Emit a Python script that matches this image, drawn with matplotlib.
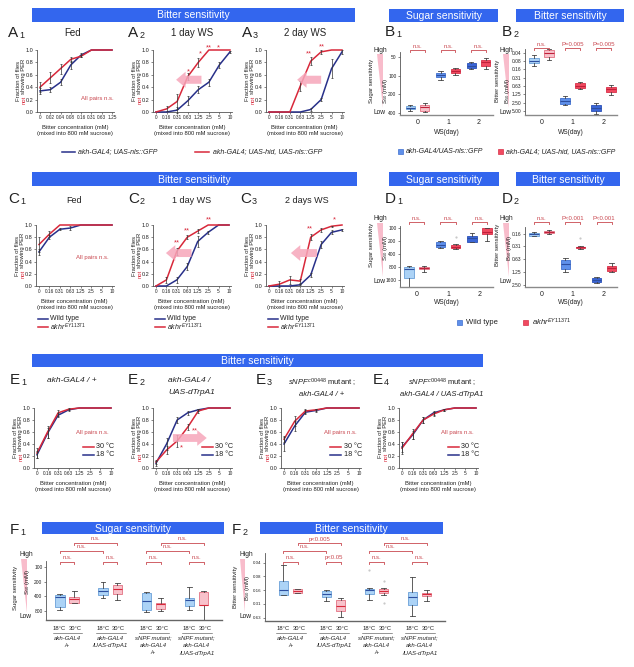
import matplotlib
matplotlib.use('Agg')
import matplotlib.pyplot as plt
from matplotlib.patches import Rectangle, Polygon, FancyArrow
from matplotlib.transforms import blended_transform_factory
from matplotlib.ticker import NullLocator, FixedLocator
import numpy as np

plt.rcParams['font.family'] = ['Liberation Sans', 'DejaVu Sans']
plt.rcParams['mathtext.fontset'] = 'custom'
plt.rcParams['mathtext.rm'] = 'Liberation Sans'
plt.rcParams['mathtext.it'] = 'Liberation Sans:italic'
plt.rcParams['mathtext.bf'] = 'Liberation Sans:bold'

# ---------------- data ----------------
conc_fed_a = ['0', '0.02', '0.04', '0.08', '0.16', '0.31', '0.63', '1.25']
conc = ['0', '0.16', '0.31', '0.63', '1.25', '2.5', '5', '10']

a1_ctrl = [0.34, 0.36, 0.48, 0.76, 0.92, 1.0, 1.0, 1.0]
a1_ctrl_err = [0.05, 0.04, 0.05, 0.07, 0.03, 0, 0, 0]
a1_hid = [0.40, 0.55, 0.70, 0.85, 0.90, 1.0, 1.0, 1.0]
a1_hid_err = [0.08, 0.09, 0.08, 0.04, 0.02, 0, 0, 0]
a2_ctrl = [0.0, 0.0, 0.03, 0.18, 0.36, 0.48, 0.76, 0.97]
a2_ctrl_err = [0, 0, 0.05, 0.07, 0.06, 0.06, 0.05, 0.02]
a2_hid = [0.0, 0.05, 0.17, 0.57, 0.80, 1.0, 1.0, 1.0]
a2_hid_err = [0, 0.04, 0.12, 0.06, 0.07, 0, 0, 0]
a3_ctrl = [0.0, 0.0, 0.0, 0.0, 0.04, 0.20, 0.70, 0.97]
a3_ctrl_err = [0, 0, 0, 0, 0.02, 0.03, 0.15, 0.03]
a3_hid = [0.0, 0.0, 0.0, 0.42, 0.82, 0.97, 1.0, 1.0]
a3_hid_err = [0, 0, 0, 0.08, 0.06, 0.03, 0, 0]

c1_wt = [0.56, 0.80, 0.93, 0.95, 1.0, 1.0, 1.0, 1.0]
c1_wt_err = [0.05, 0.03, 0.02, 0.03, 0, 0, 0, 0]
c1_akhr = [0.68, 0.85, 1.0, 1.0, 1.0, 1.0, 1.0, 1.0]
c1_akhr_err = [0.12, 0.05, 0, 0, 0, 0, 0, 0]
c2_wt = [0.0, 0.0, 0.10, 0.32, 0.73, 0.88, 1.0, 1.0]
c2_wt_err = [0, 0, 0.05, 0.05, 0.09, 0.02, 0, 0]
c2_akhr = [0.0, 0.10, 0.57, 0.80, 0.90, 1.0, 1.0, 1.0]
c2_akhr_err = [0, 0.05, 0.06, 0.03, 0.03, 0, 0, 0]
c3_wt = [0.0, 0.0, 0.0, 0.02, 0.18, 0.68, 0.88, 0.92]
c3_wt_err = [0, 0, 0, 0.01, 0.03, 0.05, 0.03, 0.02]
c3_akhr = [0.0, 0.03, 0.10, 0.08, 0.80, 0.92, 0.98, 1.0]
c3_akhr_err = [0, 0.05, 0.07, 0.03, 0.05, 0.03, 0.01, 0]

e1_30 = [0.25, 0.60, 0.92, 0.98, 1.0, 1.0, 1.0, 1.0]
e1_30_err = [0.08, 0.10, 0.05, 0.02, 0, 0, 0, 0]
e1_18 = [0.22, 0.58, 0.88, 0.97, 1.0, 1.0, 1.0, 1.0]
e1_18_err = [0.06, 0.08, 0.03, 0.02, 0, 0, 0, 0]
e2_30 = [0.10, 0.30, 0.45, 0.68, 0.95, 1.0, 1.0, 1.0]
e2_30_err = [0.04, 0.06, 0.10, 0.05, 0.03, 0, 0, 0]
e2_18 = [0.08, 0.40, 0.80, 0.92, 0.97, 1.0, 1.0, 1.0]
e2_18_err = [0.04, 0.10, 0.05, 0.03, 0.02, 0, 0, 0]
e3_30 = [0.48, 0.78, 0.95, 0.97, 1.0, 1.0, 1.0, 1.0]
e3_30_err = [0.05, 0.08, 0.03, 0.02, 0, 0, 0, 0]
e3_18 = [0.40, 0.70, 0.93, 0.96, 1.0, 1.0, 1.0, 1.0]
e3_18_err = [0.12, 0.08, 0.03, 0.03, 0, 0, 0, 0]
e4_30 = [0.33, 0.57, 0.80, 0.90, 0.97, 1.0, 1.0, 1.0]
e4_30_err = [0.10, 0.08, 0.05, 0.04, 0.02, 0, 0, 0]
e4_18 = [0.35, 0.55, 0.80, 0.92, 0.97, 1.0, 1.0, 1.0]
e4_18_err = [0.08, 0.06, 0.05, 0.03, 0.02, 0, 0, 0]

ws_days = ['0', '1', '2']
# box stats: [whislo, q1, median, q3, whishi] per WS day
b1_ctrl = [[296, 307, 327, 347, 370], [85, 89.5, 97, 106, 117], [59.5, 63, 69, 76, 78]]
b1_hid = [[272, 296, 323, 370, 388], [76, 79, 84, 91.5, 97], [52.5, 56, 60, 69, 79]]
b2_ctrl = [[0.047, 0.062, 0.078, 0.095, 0.119], [1.46, 1.77, 2.16, 2.84, 3.09], [2.68, 3.09, 3.88, 5.1, 6.7]]
b2_hid = [[0.029, 0.031, 0.040, 0.055, 0.072], [0.44, 0.50, 0.62, 0.77, 0.81], [0.58, 0.67, 0.83, 1.07, 1.34]]
d1_wt = [[758, 787, 890, 1461, 2286], [197, 208, 248, 280, 295], [128, 151, 173, 208, 214]]
d1_akhr = [[758, 813, 857, 904, 1028], [238, 248, 271, 295, 306], [102, 102, 122, 140, 200]]
d1_akhr_out = [[], [159], []]
d2_wt = [[0.141, 0.149, 0.163, 0.175, 0.181], [0.58, 0.66, 0.83, 1.07, 1.28], [1.68, 1.78, 1.95, 2.21, 2.33]]
d2_akhr = [[0.131, 0.138, 0.146, 0.154, 0.160], [0.312, 0.319, 0.330, 0.348, 0.362], [0.787, 0.911, 1.03, 1.20, 1.28]]
d2_akhr_out = [[], [0.202], []]

temps = ['18°C', '30°C']
f_groups = [['akh-GAL4', '/+'], ['akh-GAL4', '/UAS-dTrpA1'],
            ['sNPF mutant;', 'akh-GAL4', '/+'], ['sNPF mutant;', 'akh-GAL4', '/UAS-dTrpA1']]
f1_18 = [[364, 381, 420, 677, 781], [205, 273, 315, 381, 440], [330, 347, 508, 781, 859], [260, 440, 484, 645, 781]]
f1_30 = [[315, 420, 462, 559, 559], [215, 236, 286, 364, 484], [440, 559, 586, 745, 819], [315, 330, 615, 615, 1260]]
f2_18 = [[0.0442, 0.0975, 0.152, 0.205, 0.205], [0.152, 0.160, 0.186, 0.226, 0.276],
         [0.138, 0.145, 0.152, 0.186, 0.262], [0.080, 0.168, 0.226, 0.336, 0.58]]
f2_18_out = [[], [], [0.0566], []]
f2_30 = [[0.145, 0.145, 0.160, 0.177, 0.177], [0.238, 0.262, 0.353, 0.453, 0.61],
         [0.138, 0.145, 0.160, 0.177, 0.205], [0.152, 0.177, 0.195, 0.215, 0.276]]
f2_30_out = [[], [], [0.0975, 0.305], []]

# ---------------- style ----------------
W, H = 634, 667
RED = '#d8283a'
NAVY = '#28308a'
BANNER = '#3366ee'
SIG = '#c9474f'
PINK = '#f6a6ba'
DARK = '#222222'
AX = '#555555'
LB_F, LB_E = '#acd3f6', '#6aa0d8'
LP_F, LP_E = '#f8c2cb', '#e27282'
MB_F, MB_E = '#5f90ea', '#3e6fd0'
DB_F, DB_E = '#3b66d6', '#2a50b8'
MR_F, MR_E = '#f04a60', '#d83048'

fig = plt.figure(figsize=(W / 100, H / 100), dpi=100)


def fy(y):
    return 1 - y / H


def ftext(x, y, s, **kw):
    kw.setdefault('color', DARK)
    return fig.text(x / W, fy(y), s, **kw)


def add_ax(x0, y0, x1, y1):
    return fig.add_axes([x0 / W, fy(y1), (x1 - x0) / W, (y1 - y0) / H])


def banner(x0, y0, x1, y1, txt, fs=7.5):
    fig.add_artist(Rectangle((x0 / W, fy(y1)), (x1 - x0) / W, (y1 - y0) / H,
                             transform=fig.transFigure, facecolor=BANNER, edgecolor='none'))
    ftext((x0 + x1) / 2, (y0 + y1) / 2 + 0.5, txt, color='white', ha='center', va='center', fontsize=fs)


LW = {'A': 10.6, 'B': 10.6, 'C': 11.5, 'D': 11.5, 'E': 10.6, 'F': 9.7}


def plabel(x, y, letter, num):
    ftext(x, y, letter, fontsize=11, va='center')
    ftext(x + LW[letter] + 0.5, y + 2.5, num, fontsize=6.5, va='center')


renderer = fig.canvas.get_renderer()


def not_label(xc, yc, fs=4.2):
    t = fig.text(0, 0, 'not showing PER', fontsize=fs, rotation=90)
    hf = t.get_window_extent(renderer).height
    t.remove()
    fig.text(xc / W, fy(yc + hf / 2), 'not', color=RED, rotation=90, ha='center', va='bottom', fontsize=fs)
    fig.text(xc / W, fy(yc - hf / 2), 'showing PER', color=DARK, rotation=90, ha='center', va='top', fontsize=fs)


def style_axes(ax):
    for s in ['top', 'right']:
        ax.spines[s].set_visible(False)
    for s in ['left', 'bottom']:
        ax.spines[s].set_color(AX)
        ax.spines[s].set_linewidth(0.6)
    ax.tick_params(colors=AX, labelcolor=DARK, length=1.5, width=0.5, pad=1)


def line_panel(t0, t7, y1, y0, xlabels, series, arrow=None, stars=(), ns=None):
    unit = (t7 - t0) / 7
    x0 = t0 - 0.3 * unit
    x1 = t7 + 0.15 * unit
    ytop = y0 - 1.15 * (y0 - y1)
    ax = add_ax(x0, ytop, x1, y0)
    ax.set_xlim(-0.3, 7.15)
    ax.set_ylim(0, 1.15)
    style_axes(ax)
    ax.spines['left'].set_bounds(0, 1)
    xs = np.arange(8)
    for vals, errs, col in series:
        v = np.array(vals)
        e = np.array(errs)
        ax.plot(xs, v, color=col, lw=1.1, zorder=4, clip_on=False)
        m = e > 0
        ax.errorbar(xs[m], v[m], yerr=e[m], fmt='none', ecolor='#333333', elinewidth=0.5,
                    capsize=1.0, capthick=0.5, zorder=5, clip_on=False)
    ax.set_xticks(xs)
    ax.set_xticklabels(xlabels, fontsize=3.4)
    ax.set_yticks([0, 0.2, 0.4, 0.6, 0.8, 1.0])
    ax.set_yticklabels(['0.0', '0.2', '0.4', '0.6', '0.8', '1.0'], fontsize=4.0)
    ax.tick_params(axis='y', pad=0.8)
    if arrow is not None:
        xa, xb, ya = arrow
        ax.add_patch(FancyArrow(xa, ya, xb - xa, 0, width=0.13, head_width=0.26, head_length=0.9,
                                length_includes_head=True, facecolor=PINK, edgecolor='none', alpha=0.85, zorder=6))
    for sx, sy, s in stars:
        ax.text(sx, sy, s, color=RED, fontsize=5.5, ha='center', va='center', zorder=7)
    if ns is not None:
        ax.text(ns[0], ns[1], 'All pairs n.s.', transform=ax.transAxes, color=SIG, fontsize=4.3,
                ha='center', va='center')
    xc = (x0 + x1) / 2
    ftext(xc, y0 + 15, 'Bitter concentration (mM)', fontsize=4.2, ha='center', va='center')
    ftext(xc, y0 + 21.5, '(mixed into 800 mM sucrose)', fontsize=4.2, ha='center', va='center')
    ftext(x0 - 18.5, (y0 + y1) / 2, 'Fraction of flies', fontsize=4.2, rotation=90, ha='center', va='center')
    not_label(x0 - 13, (y0 + y1) / 2)
    return ax


def bracket(ax, xa, xb, ypx, label, tdy=4.0, fs=4.3):
    tr = blended_transform_factory(ax.transData, fig.transFigure)
    yf = fy(ypx)
    d = 2.0 / H
    ax.plot([xa, xa, xb, xb], [yf - d, yf, yf, yf - d], transform=tr, color=SIG, lw=0.6, clip_on=False)
    ax.text((xa + xb) / 2, fy(ypx - tdy), label, transform=tr, ha='center', va='center',
            fontsize=fs, color=SIG)


def draw_boxes(ax, stats_list, positions, width, faces, edges, meds, fliers=None):
    if fliers is None:
        fliers = [[] for _ in stats_list]
    stats = [dict(whislo=s[0], q1=s[1], med=s[2], q3=s[3], whishi=s[4], fliers=f)
             for s, f in zip(stats_list, fliers)]
    b = ax.bxp(stats, positions=positions, widths=width, patch_artist=True, showfliers=True,
               manage_ticks=False,
               whiskerprops=dict(color='#444444', lw=0.6),
               capprops=dict(color='#444444', lw=0.6),
               flierprops=dict(marker='o', ms=1.6, markerfacecolor='#c8c8c8', markeredgecolor='none'))
    for p, fc, ec in zip(b['boxes'], faces, edges):
        p.set_facecolor(fc)
        p.set_edgecolor(ec)
        p.set_linewidth(0.6)
    for m, mc in zip(b['medians'], meds):
        m.set_color(mc)
        m.set_linewidth(0.8)


def wedge(x0, x1, ytop, ybot):
    fig.add_artist(Polygon([(x0 / W, fy(ytop)), (x1 / W, fy(ytop)), (x1 / W, fy(ybot))],
                           closed=True, transform=fig.transFigure, facecolor=PINK, edgecolor='none', alpha=0.75))


def sens_labels(xs1, xs2, yc1, yc2, hx, yhigh, ylow, wx, kind, ww=6):
    ftext(xs1, yc1, kind + ' sensitivity', fontsize=4.3, rotation=90, ha='center', va='center')
    sym = 'S' if kind == 'Sugar' else 'B'
    ftext(xs2, yc2, sym + r'$_{50}$ (mM)', fontsize=4.3, rotation=90, ha='center', va='center')
    ftext(hx, yhigh, 'High', fontsize=4.8, ha='left', va='center')
    ftext(hx, ylow, 'Low', fontsize=4.8, ha='left', va='center')
    wedge(wx, wx + ww, yhigh + 4, ylow - 4)


def box_axes(x0, x1, ytop, ybot, c0, unit, ylim, yticks, yticklabels, tfs=3.5):
    ax = add_ax(x0, ytop, x1, ybot)
    ax.set_xlim((x0 - c0) / unit, (x1 - c0) / unit)
    ax.set_yscale('log')
    ax.set_ylim(ylim)
    style_axes(ax)
    ax.spines['bottom'].set_color('#8a8a8a')
    ax.spines['bottom'].set_linewidth(1.0)
    ax.yaxis.set_major_locator(FixedLocator(yticks))
    ax.yaxis.set_minor_locator(NullLocator())
    ax.set_yticklabels(yticklabels, fontsize=tfs)
    return ax


def ws_panel(x0, x1, ytop, ybot, c0, unit, ylim, yticks, ytl, ctrl, mut, faces_c, edges_c, faces_m, edges_m,
             mut_out, sig_y, sig_labels, xl_y):
    ax = box_axes(x0, x1, ytop, ybot, c0, unit, ylim, yticks, ytl)
    days = np.arange(3)
    draw_boxes(ax, ctrl, days - 0.24, 0.3, faces_c, edges_c, ['#2d4fa0'] * 3)
    draw_boxes(ax, mut, days + 0.24, 0.3, faces_m, edges_m, ['#c0203a'] * 3, mut_out)
    ax.set_xticks(days)
    ax.set_xticklabels(ws_days, fontsize=5)
    ax.tick_params(axis='x', length=0, pad=3)
    ftext((x0 + x1) / 2, xl_y, 'WS(day)', fontsize=4.8, ha='center', va='center')
    for d, lab in zip(days, sig_labels):
        bracket(ax, d - 0.24, d + 0.24, sig_y, lab)
    return ax


# ---------------- banners ----------------
banner(32, 8, 355, 22, 'Bitter sensitivity')
banner(389, 9, 498, 22, 'Sugar sensitivity')
banner(516, 9, 624, 22, 'Bitter sensitivity')
banner(32, 172, 357, 186, 'Bitter sensitivity')
banner(389, 172, 499, 186, 'Sugar sensitivity')
banner(516, 172, 620, 186, 'Bitter sensitivity')
banner(32, 354, 483, 367, 'Bitter sensitivity')
banner(42, 522, 224, 534, 'Sugar sensitivity')
banner(260, 522, 443, 534, 'Bitter sensitivity')

# ---------------- row A ----------------
plabel(8, 33, 'A', '1'); plabel(128, 33, 'A', '2'); plabel(242, 33, 'A', '3')
plabel(385, 32, 'B', '1'); plabel(502, 32, 'B', '2')
ftext(73, 33, 'Fed', fontsize=7, ha='center', va='center')
ftext(192, 33, '1 day WS', fontsize=7, ha='center', va='center')
ftext(305, 33, '2 day WS', fontsize=7, ha='center', va='center')

line_panel(40, 112, 50, 112, conc_fed_a,
           [(a1_ctrl, a1_ctrl_err, NAVY), (a1_hid, a1_hid_err, RED)], ns=(0.79, 0.19))
line_panel(156, 230, 50, 112, conc,
           [(a2_ctrl, a2_ctrl_err, NAVY), (a2_hid, a2_hid_err, RED)],
           arrow=(4.3, 1.9, 0.52),
           stars=[(3.1, 0.64, '*'), (4.2, 0.93, '*'), (5.0, 1.04, '**'), (5.9, 1.04, '*')])
line_panel(269, 342, 50, 112, conc,
           [(a3_ctrl, a3_ctrl_err, NAVY), (a3_hid, a3_hid_err, RED)],
           arrow=(5.0, 2.7, 0.52),
           stars=[(3.8, 0.93, '**'), (5.1, 1.05, '**')])

fig.add_artist(plt.Line2D([62 / W, 75 / W], [fy(152), fy(152)], color=NAVY, lw=1.1))
ftext(78, 152, 'akh-GAL4; UAS-nls::GFP', fontsize=5, style='italic', va='center')
fig.add_artist(plt.Line2D([195 / W, 209 / W], [fy(152), fy(152)], color=RED, lw=1.1))
ftext(213, 152, 'akh-GAL4; UAS-hid, UAS-nls::GFP', fontsize=5, style='italic', va='center')

# B1
ax = ws_panel(400, 493, 52, 115, 417.5, 30.5, (430, 41.6), [50, 100, 200, 400], ['50', '100', '200', '400'],
              b1_ctrl, b1_hid, [LB_F, MB_F, DB_F], [LB_E, MB_E, DB_E], [LP_F, MR_F, MR_F], [LP_E, MR_E, MR_E],
              None, 50, ['n.s.', 'n.s.', 'n.s.'], 133)
sens_labels(371, 385, 81, 91, 374, 50, 112, 377, 'Sugar')
# B2
b2_ticks = [0.039, 0.078, 0.156, 0.3125, 0.625, 1.25, 2.5, 5.0]
b2_tl = ['0.04', '0.08', '0.16', '0.31', '0.63', '1.25', '2.50', '5.00']
ax = ws_panel(525, 617, 49, 115, 541.5, 31, (7.1, 0.0286), b2_ticks, b2_tl,
              b2_ctrl, b2_hid, [LB_F, MB_F, DB_F], [LB_E, MB_E, DB_E], [LP_F, MR_F, MR_F], [LP_E, MR_E, MR_E],
              None, 48, ['n.s.', 'P=0.005', 'P=0.005'], 133)
sens_labels(497, 508, 81, 91, 500, 50, 112, 503, 'Bitter')

for xq, fc, ec, lab in [(398, MB_F, MB_E, 'akh-GAL4/UAS-nls::GFP'),
                        (498, MR_F, MR_E, 'akh-GAL4; UAS-hid, UAS-nls::GFP')]:
    fig.add_artist(Rectangle((xq / W, fy(154)), 5 / W, 5 / H, transform=fig.transFigure,
                             facecolor=fc, edgecolor=ec, lw=0.5))
    ftext(xq + 8, 151.5, lab, fontsize=5, style='italic', va='center')

# ---------------- row C ----------------
plabel(8, 199, 'C', '1'); plabel(128, 199, 'C', '2'); plabel(240, 199, 'C', '3')
plabel(385, 199, 'D', '1'); plabel(502, 199, 'D', '2')
ftext(74, 200, 'Fed', fontsize=6.5, ha='center', va='center')
ftext(192, 200, '1 day WS', fontsize=6.5, ha='center', va='center')
ftext(307, 200, '2 days WS', fontsize=6.5, ha='center', va='center')

line_panel(39, 112, 225, 286, conc,
           [(c1_wt, c1_wt_err, NAVY), (c1_akhr, c1_akhr_err, RED)], ns=(0.73, 0.4))
line_panel(156, 229, 225, 286, conc,
           [(c2_wt, c2_wt_err, NAVY), (c2_akhr, c2_akhr_err, RED)],
           arrow=(3.4, 0.95, 0.54),
           stars=[(2.0, 0.70, '**'), (3.0, 0.90, '**'), (5.1, 1.08, '**')])
line_panel(269, 342, 225, 286, conc,
           [(c3_wt, c3_wt_err, NAVY), (c3_akhr, c3_akhr_err, RED)],
           arrow=(4.6, 2.1, 0.54),
           stars=[(3.9, 0.93, '**'), (6.3, 1.09, '*')])
for xl in [37, 154, 267]:
    fig.add_artist(plt.Line2D([(xl + 1) / W, (xl + 11) / W], [fy(319), fy(319)], color=NAVY, lw=1.1))
    fig.add_artist(plt.Line2D([(xl + 1) / W, (xl + 11) / W], [fy(327), fy(327)], color=RED, lw=1.1))
    ftext(xl + 13, 319, 'Wild type', fontsize=5, va='center')
    ftext(xl + 13, 327, r'$\mathit{akhr}^{\mathit{EY11371}}$', fontsize=5, va='center')

# D1
ax = ws_panel(400, 493, 226, 287, 416.5, 31.5, (2320, 90), [100, 200, 400, 800, 1600],
              ['100', '200', '400', '800', '1600'],
              d1_wt, d1_akhr, [LB_F, MB_F, DB_F], [LB_E, MB_E, DB_E], [LP_F, MR_F, MR_F], [LP_E, MR_E, MR_E],
              d1_akhr_out, 222, ['n.s.', 'n.s.', 'n.s.'], 303)
sens_labels(371, 385, 245, 248, 374, 219, 281, 377, 'Sugar')
# D2
ax = ws_panel(525, 617, 227, 287, 541.5, 31.3, (2.85, 0.109), [0.156, 0.3125, 0.625, 1.25, 2.5],
              ['0.16', '0.31', '0.63', '1.25', '2.50'],
              d2_wt, d2_akhr, [LB_F, MB_F, DB_F], [LB_E, MB_E, DB_E], [LP_F, MR_F, MR_F], [LP_E, MR_E, MR_E],
              d2_akhr_out, 222, ['n.s.', 'P<0.001', 'P<0.001'], 303)
sens_labels(497, 509, 245, 248, 500, 219, 281, 503, 'Bitter')

for xq, fc, ec, lab in [(457, MB_F, MB_E, 'Wild type'),
                        (523, MR_F, MR_E, r'$\mathit{akhr}^{\mathit{EY11371}}$')]:
    fig.add_artist(Rectangle((xq / W, fy(325)), 5 / W, 5 / H, transform=fig.transFigure,
                             facecolor=fc, edgecolor=ec, lw=0.5))
    ftext(xq + 9, 322, lab, fontsize=5.5, va='center')

# ---------------- row E ----------------
plabel(10, 380, 'E', '1'); plabel(128, 380, 'E', '2'); plabel(256, 380, 'E', '3'); plabel(373, 380, 'E', '4')
ftext(72, 381, 'akh-GAL4 / +', fontsize=6, style='italic', ha='center', va='center')
ftext(168, 381, 'akh-GAL4 /', fontsize=6, style='italic', ha='left', va='center')
ftext(168, 392, 'UAS-dTrpA1', fontsize=6, style='italic', ha='left', va='center')
ftext(322, 383, r'$\mathit{sNPF}^{\mathit{c00448}}$ mutant ;', fontsize=5.5, ha='center', va='center')
ftext(322, 394, 'akh-GAL4 / +', fontsize=5.5, style='italic', ha='center', va='center')
ftext(442, 383, r'$\mathit{sNPF}^{\mathit{c00448}}$ mutant ;', fontsize=5.5, ha='center', va='center')
ftext(442, 394, 'akh-GAL4 / UAS-dTrpA1', fontsize=5.5, style='italic', ha='center', va='center')

e_axes = []
e_axes.append(line_panel(37, 111, 408, 468, conc, [(e1_18, e1_18_err, NAVY), (e1_30, e1_30_err, RED)],
                         ns=(0.74, 0.52)))
e_axes.append(line_panel(156, 230, 408, 468, conc, [(e2_18, e2_18_err, NAVY), (e2_30, e2_30_err, RED)],
                         arrow=(1.6, 4.8, 0.5), stars=[(2.4, 0.34, '*'), (3.7, 0.62, '**')]))
e_axes.append(line_panel(284, 359, 408, 468, conc, [(e3_18, e3_18_err, NAVY), (e3_30, e3_30_err, RED)],
                         ns=(0.74, 0.52)))
e_axes.append(line_panel(402, 476, 408, 468, conc, [(e4_18, e4_18_err, NAVY), (e4_30, e4_30_err, RED)],
                         ns=(0.74, 0.52)))
for ax in e_axes:
    for yv, col, lab in [(0.35, RED, '30 °C'), (0.22, NAVY, '18 °C')]:
        ax.plot([0.62, 0.76], [yv / 1.15, yv / 1.15], transform=ax.transAxes, color=col, lw=1.1)
        ax.text(0.79, yv / 1.15, lab, transform=ax.transAxes, fontsize=5.2, va='center', color=DARK)

# ---------------- row F ----------------
plabel(10, 530, 'F', '1'); plabel(232, 530, 'F', '2')
groups = np.arange(4)
OFF = 0.165


def f_panel(x0, x1, ytop, ybot, c0, unit, ylim, yticks, ytl, s18, s30, o18, o30, tfs):
    ax = box_axes(x0, x1, ytop, ybot, c0, unit, ylim, yticks, ytl, tfs)
    ax.spines['bottom'].set_color('#666666')
    draw_boxes(ax, s18, groups - OFF, 0.22, [LB_F] * 4, [LB_E] * 4, ['#2d4fa0'] * 4, o18)
    draw_boxes(ax, s30, groups + OFF, 0.22, [LP_F] * 4, [LP_E] * 4, [RED] * 4, o30)
    ax.set_xticks([])
    tr = blended_transform_factory(ax.transData, fig.transFigure)
    for g in groups:
        ax.text(g - OFF - 0.01, fy(628), temps[0], transform=tr, fontsize=4.2, ha='center', va='center', color=DARK)
        ax.text(g + OFF + 0.03, fy(628), temps[1], transform=tr, fontsize=4.2, ha='center', va='center', color=DARK)
        ax.plot([g - OFF - 0.17, g + OFF + 0.19], [fy(632.5), fy(632.5)], transform=tr, color='#444444',
                lw=0.4, clip_on=False)
        for k, line in enumerate(f_groups[g]):
            ax.text(g, fy(638 + 7.5 * k), line, transform=tr, fontsize=4.3, style='italic', ha='center',
                    va='center', color=DARK)
    return ax


ax = f_panel(46, 222, 561, 620, 67, 43.2, (1260, 75), [100, 200, 400, 800], ['100', '200', '400', '800'],
             f1_18, f1_30, None, None, 3.5)
bracket(ax, 0 + OFF, 1 + OFF, 543, 'n.s.', tdy=4)
bracket(ax, 0 - OFF, 1 - OFF, 551, 'n.s.', tdy=4)
bracket(ax, 2 + OFF, 3 + OFF, 543, 'n.s.', tdy=4)
bracket(ax, 2 - OFF, 3 - OFF, 551, 'n.s.', tdy=4)
for g in groups:
    bracket(ax, g - OFF, g + OFF, 562, 'n.s.', tdy=4.5)
sens_labels(15, 28, 588, 582, 19, 555, 617, 21, 'Sugar')

ax = f_panel(265, 445, 553, 621, 290.5, 43, (0.744, 0.024), [0.039, 0.078, 0.156, 0.3125, 0.625],
             ['0.04', '0.08', '0.16', '0.31', '0.63'], f2_18, f2_30, f2_18_out, f2_30_out, 3.2)
bracket(ax, 0 + OFF, 1 + OFF, 543, 'p<0.005', tdy=4)
bracket(ax, 0 - OFF, 1 - OFF, 551, 'n.s.', tdy=4)
bracket(ax, 2 + OFF, 3 + OFF, 543, 'n.s.', tdy=4)
bracket(ax, 2 - OFF, 3 - OFF, 551, 'n.s.', tdy=4)
for g, lab in zip(groups, ['n.s.', 'p<0.05', 'n.s.', 'n.s.']):
    bracket(ax, g - OFF, g + OFF, 562, lab, tdy=4.5)
sens_labels(235, 247.5, 587, 588, 240, 555, 617, 240.5, 'Bitter', ww=4.5)

fig.savefig('out.png', dpi=100)
